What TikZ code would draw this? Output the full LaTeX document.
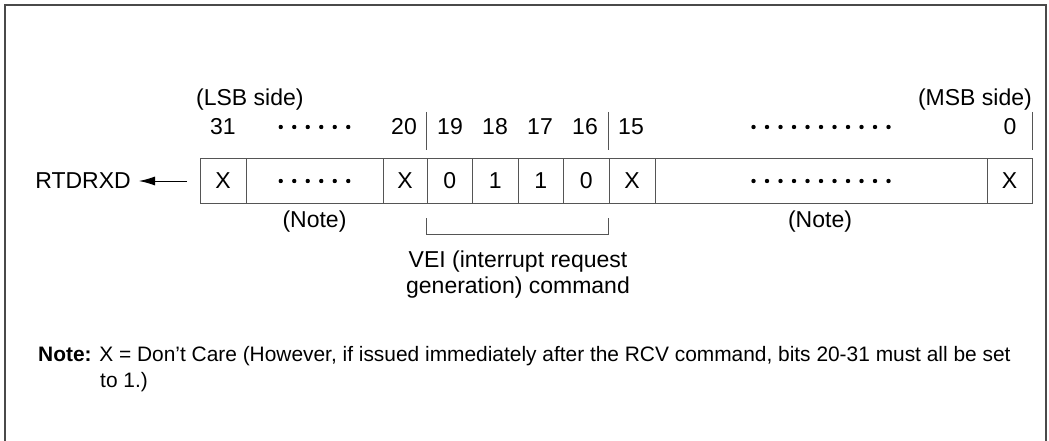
\documentclass[tikz,border=0pt]{standalone}
\usepackage{fontspec}
\setmainfont{Liberation Sans}
\usetikzlibrary{arrows.meta}
\definecolor{linecol}{HTML}{555555}
\definecolor{framecol}{HTML}{4A4A4A}
\begin{document}
\begin{tikzpicture}[x=1pt,y=-1pt,
  txt/.style={inner sep=0pt, font=\fontsize{23}{26}\selectfont},
  cell/.style={draw=linecol, line width=0.8pt, minimum height=45pt, inner sep=0pt, font=\fontsize{23}{26}\selectfont},
  tick/.style={draw=linecol, line width=0.8pt},
  notetxt/.style={inner sep=0pt, anchor=base west, font=\fontsize{20.9}{24}\selectfont}]
\useasboundingbox (0,0) rectangle (1049,441);
% frame (open at bottom)
\draw[framecol, line width=1.6pt] (5,441) -- (5,5) -- (1046,5) -- (1046,441);

% cells
\node[cell, minimum width=46pt]  (c1)  at (223,181) {X};
\node[cell, minimum width=137pt] (c2)  at (314.5,181) {};
\node[cell, minimum width=44pt]  (c3)  at (405,181) {X};
\node[cell, minimum width=45.5pt] (c4) at (449.75,181) {0};
\node[cell, minimum width=45.5pt] (c5) at (495.25,181) {1};
\node[cell, minimum width=45.5pt] (c6) at (540.75,181) {1};
\node[cell, minimum width=45.5pt] (c7) at (586.25,181) {0};
\node[cell, minimum width=46pt]  (c8)  at (632,181) {X};
\node[cell, minimum width=332pt] (c9)  at (821,181) {};
\node[cell, minimum width=45pt]  (c10) at (1009.5,181) {X};

% dots in cells and in the bit-number row
\foreach \i in {0,...,5} {
  \fill (280.75+\i*13.5,181) circle (2.2);
  \fill (280.75+\i*13.5,127) circle (2.2);
}
\foreach \i in {0,...,10} {
  \fill (753.5+\i*13.5,181) circle (2.2);
  \fill (753.5+\i*13.5,127) circle (2.2);
}

% bit numbers
\node[txt] (b31) at (223,127) {31};
\node[txt] (b20) at (404,127) {20};
\node[txt] (b19) at (450,127) {19};
\node[txt] (b18) at (495,127) {18};
\node[txt] (b17) at (540,127) {17};
\node[txt] (b16) at (585,127) {16};
\node[txt] (b15) at (631,127) {15};
\node[txt] (b0)  at (1010,127) {0};

% separator ticks above
\coordinate (t1a) at (c4.north west |- 0,112);
\coordinate (t2a) at (c8.north west |- 0,112);
\coordinate (t3a) at (c10.north east |- 0,112);
\draw[tick] (t1a) -- ++(0,38);
\draw[tick] (t2a) -- ++(0,38);
\draw[tick] (t3a) -- ++(0,38);

% side labels
\node[txt, anchor=west] (lsb) at (196,100) {(LSB side)};
\node[txt, anchor=east] (msb) at (1032,100) {(MSB side)};

% RTDRXD and arrow
\node[txt, anchor=east] (rtd) at (131,181) {RTDRXD};
\coordinate (arrstart) at (187,181);
\draw[line width=0.9pt, -{Latex[length=16pt,width=9pt]}] (arrstart) -- (rtd.east -| 139,0);

% (Note) labels
\node[txt] (n1) at (314.5,222) {(Note)};
\node[txt] (n2) at (820,222) {(Note)};

% bracket
\coordinate (br1) at (c4.south west |- 0,234);
\coordinate (br2) at (c8.south west |- 0,234);
\draw[tick] (c4.south west |- 0,218) -- (br1) -- (br2) -- (c8.south west |- 0,218);

% VEI label
\node[txt, align=center] (vei) at (518,275) {VEI (interrupt request\\generation) command};

% note
\node[notetxt] (note1) at (38,361.5) {\textbf{Note:} X = Don't Care (However, if issued immediately after the RCV command, bits 20-31 must all be set};
\node[notetxt] (note2) at (100,387.5) {to 1.)};
\end{tikzpicture}
\end{document}
